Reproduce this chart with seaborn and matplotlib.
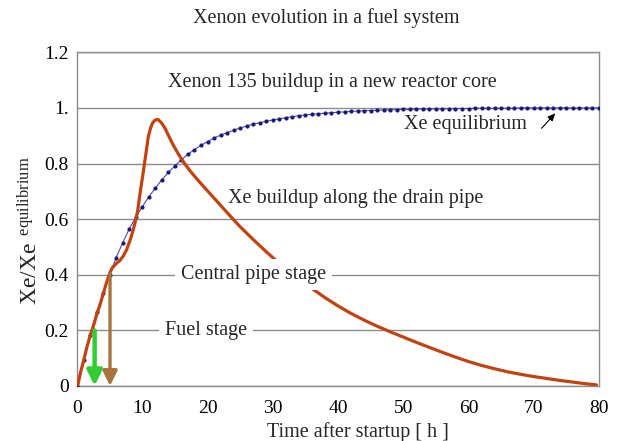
import matplotlib
matplotlib.use("Agg")
import numpy as np
import pandas as pd
import seaborn as sns
import matplotlib.pyplot as plt

# ---------------- data ----------------
blue_t = list(range(0, 81))
blue_v = [0.000, 0.095, 0.185, 0.265, 0.335, 0.400, 0.462, 0.515, 0.565, 0.607,
          0.645, 0.680, 0.712, 0.742, 0.768, 0.792, 0.814, 0.834, 0.850, 0.866,
          0.879, 0.892, 0.902, 0.911, 0.920, 0.928, 0.935, 0.942, 0.947, 0.952,
          0.957, 0.961, 0.965, 0.969, 0.972, 0.975, 0.977, 0.979, 0.981, 0.983,
          0.985, 0.986, 0.988, 0.989, 0.990, 0.991, 0.992, 0.993, 0.994, 0.994,
          0.995, 0.995, 0.996, 0.996, 0.997, 0.997, 0.997, 0.998, 0.998, 0.998,
          0.998, 0.999, 0.999, 0.999, 0.999, 0.999, 0.999, 0.999, 1.000, 1.000,
          1.000, 1.000, 1.000, 1.000, 1.000, 1.000, 1.000, 1.000, 1.000, 1.000,
          1.000]

red_t = [0.1, 0.5, 1.0, 1.5, 2.0, 2.5, 3.0, 3.5, 4.0, 4.5, 5.0, 5.4, 6.0, 6.6,
         7.1, 7.6, 8.1, 8.6, 9.0, 9.3, 9.66, 10.16, 10.42, 10.93, 11.3, 11.6,
         12.0, 12.4, 12.9, 13.5, 14.0, 14.5, 15.0, 15.5, 16.0, 16.5, 17.0, 17.5,
         18.0, 19.0, 20.0, 21.0, 22.0, 23.0, 24.0, 25.0, 26.0, 27.0, 28.0, 29.0,
         30.0, 31.0, 32.0, 33.0, 34.0, 35.0, 36.0, 38.0, 40.0, 42.0, 44.0, 46.0,
         48.0, 50.0, 52.0, 54.0, 56.0, 58.0, 60.0, 62.0, 64.0, 66.0, 68.0, 70.0,
         72.0, 74.0, 76.0, 78.0, 79.6]
red_v = [0.000, 0.045, 0.090, 0.138, 0.180, 0.215, 0.255, 0.290, 0.330, 0.370,
         0.405, 0.425, 0.440, 0.452, 0.468, 0.490, 0.522, 0.560, 0.597, 0.630,
         0.693, 0.770, 0.813, 0.897, 0.930, 0.947, 0.957, 0.959, 0.948, 0.927,
         0.902, 0.878, 0.856, 0.836, 0.817, 0.800, 0.784, 0.769, 0.755, 0.728,
         0.702, 0.676, 0.650, 0.624, 0.598, 0.573, 0.550, 0.527, 0.505, 0.483,
         0.462, 0.442, 0.423, 0.404, 0.386, 0.368, 0.351, 0.318, 0.288, 0.261,
         0.237, 0.215, 0.195, 0.176, 0.157, 0.139, 0.121, 0.104, 0.088, 0.074,
         0.062, 0.051, 0.042, 0.034, 0.027, 0.020, 0.014, 0.008, 0.004]

x_ticks = [0, 10, 20, 30, 40, 50, 60, 70, 80]
y_ticks = [0, 0.2, 0.4, 0.6, 0.8, 1.0, 1.2]
y_tick_labels = ["0", "0.2", "0.4", "0.6", "0.8", "1.", "1.2"]

fuel_stage = (2.7, 0.20)
pipe_stage = (5.06, 0.405)

# ---------------- style ----------------
sns.set_theme(style="white")
plt.rcParams["font.family"] = ["Liberation Serif", "DejaVu Serif"]
plt.rcParams["mathtext.fontset"] = "custom"
plt.rcParams["mathtext.rm"] = "Liberation Serif"
plt.rcParams["mathtext.it"] = "Liberation Serif:italic"

RED = "#c24312"
BLUE_LINE = "#4a4ab0"
BLUE_DOT = "#1a1a78"
GREEN = "#33cc33"
BROWN = "#a8743e"
GRAY = "#8c8c8c"
FS = 14.5

fig = plt.figure(figsize=(6.2, 4.41), dpi=100)
ax = fig.add_axes([77 / 620, 1 - 386 / 441, 522 / 620, 333.6 / 441])

df_blue = pd.DataFrame({"t": blue_t, "v": blue_v})
df_red = pd.DataFrame({"t": red_t, "v": red_v})

sns.lineplot(data=df_blue, x="t", y="v", ax=ax, color=BLUE_LINE, lw=0.8,
             marker="o", markersize=3, markeredgewidth=0,
             markerfacecolor=BLUE_DOT, errorbar=None, zorder=3)
sns.lineplot(data=df_red, x="t", y="v", ax=ax, color=RED, lw=2.3, sort=False,
             errorbar=None, zorder=4)

ax.set_xlim(0, 80)
ax.set_ylim(0, 1.2)
ax.set_xticks(x_ticks)
ax.set_yticks(y_ticks)
ax.set_yticklabels(y_tick_labels)
ax.set_axisbelow(True)
ax.yaxis.grid(True, color=GRAY, lw=1)
ax.xaxis.grid(False)
for s in ax.spines.values():
    s.set_visible(True)
    s.set_color(GRAY)
    s.set_linewidth(1)
ax.tick_params(axis="both", direction="out", length=4, width=1, color=GRAY,
               labelsize=14, labelcolor="black")
ax.tick_params(axis="y", pad=2)
ax.tick_params(axis="x", pad=6)

# arrows
for (xv, yv), col, lw in [(fuel_stage, GREEN, 3.2), (pipe_stage, BROWN, 2.4)]:
    ax.annotate("", xy=(xv, 0), xytext=(xv, yv),
                arrowprops=dict(arrowstyle="-|>,head_width=0.22,head_length=0.45",
                                mutation_scale=20, color=col, lw=lw,
                                shrinkA=0, shrinkB=0),
                zorder=5, annotation_clip=False)

box = dict(facecolor="white", edgecolor="none", boxstyle="square,pad=0.3")
ax.text(19.8, 0.2, "Fuel stage", ha="center", va="center", fontsize=FS,
        bbox=box, zorder=6)
ax.text(27.1, 0.4, "Central pipe stage", ha="center", va="center", fontsize=FS,
        bbox=box, zorder=6)
ax.text(42.7, 0.676, "Xe buildup along the drain pipe", ha="center",
        va="center", fontsize=FS, zorder=6)
ax.text(39.1, 1.09, "Xenon 135 buildup in a new reactor core", ha="center",
        va="center", fontsize=FS, zorder=6)
ax.text(59.5, 0.939, "Xe equilibrium", ha="center", va="center", fontsize=FS,
        zorder=6)
ax.annotate("", xy=(73.3, 0.981), xytext=(71.2, 0.927),
            arrowprops=dict(arrowstyle="-|>,head_width=0.2,head_length=0.45",
                            mutation_scale=10, color="black", lw=0.8,
                            shrinkA=0, shrinkB=0), zorder=6)

ax.set_xlabel("Time after startup [ h ]", fontsize=FS)
ax.xaxis.set_label_coords((358 - 77) / 522, (386 - 432) / 333.6)
ax.xaxis.label.set_va("center")
ax.set_ylabel(r"Xe/Xe$^{\ \ \mathrm{equilibrium}}$", fontsize=17)
ax.yaxis.set_label_coords((30 - 77) / 522, 0.465)
ax.yaxis.label.set_va("center")

fig.text(326.5 / 620, 1 - 18 / 441, "Xenon evolution in a fuel system",
         ha="center", va="center", fontsize=FS)

fig.savefig("out.png", dpi=100)
